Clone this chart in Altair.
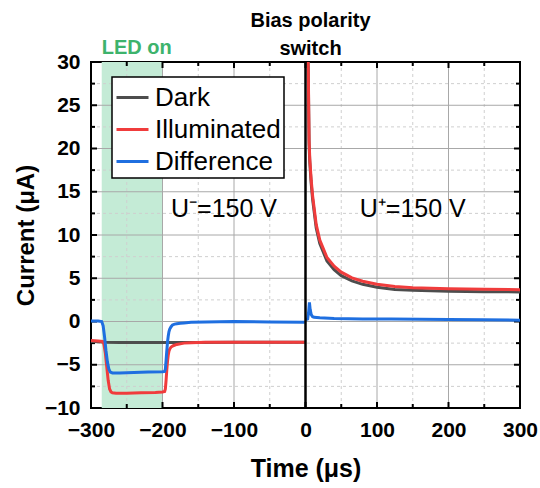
import altair as alt
import pandas as pd

# ---- measured traces: time in microseconds, current in microamps ----
dark_t = [-300, -290, -280, -260, -240, -220, -200, -180, -150, -100, -50, -1,
          3.5, 4, 4.5, 5, 6, 8, 10, 15, 20, 30, 40, 50, 65, 80, 100, 125, 150, 200, 250, 300]
dark_i = [-2.3, -2.35, -2.4, -2.42, -2.42, -2.42, -2.42, -2.42, -2.42, -2.4, -2.4, -2.4,
          31, 28, 24, 20.5, 18.4, 15.9, 14.1, 10.8, 9.0, 7.0, 6.0, 5.3, 4.7, 4.3, 3.95, 3.7, 3.6, 3.5, 3.45, 3.42]

red_t = [-300, -290, -284, -282, -280, -278, -276, -274, -272, -270, -265, -250, -230, -210, -200,
         -197, -196, -195, -194, -193, -192, -191, -190, -188, -185, -180, -170, -160, -140, -100, -50, -1,
         3.5, 4, 4.5, 5, 6, 8, 10, 15, 20, 30, 40, 50, 65, 80, 100, 125, 150, 200, 250, 300]
red_i = [-2.2, -2.25, -2.3, -2.6, -3.6, -5.2, -6.8, -7.8, -8.15, -8.25, -8.3, -8.3, -8.25, -8.2, -8.15,
         -8.1, -7.8, -6.8, -5.6, -4.6, -3.9, -3.45, -3.2, -2.95, -2.8, -2.65, -2.5, -2.45, -2.4, -2.4, -2.4, -2.4,
         31, 28.5, 24.5, 21, 18.8, 16.3, 14.5, 11.2, 9.4, 7.4, 6.4, 5.7, 5.05, 4.65, 4.3, 4.05, 3.9, 3.78, 3.72, 3.68]

diff_t = [-300, -290, -285, -283, -281, -279, -277, -275, -273, -270, -260, -240, -220, -200,
          -197, -196, -195, -194, -193, -192, -191, -190, -188, -186, -183, -180, -175, -170, -160, -140, -100, -50, -1,
          0.5, 3, 4.5, 5.5, 6.5, 8, 10, 12, 20, 40, 80, 120, 160, 200, 250, 300]
diff_i = [0.05, 0.05, 0, -0.5, -1.8, -3.4, -4.7, -5.5, -5.85, -5.95, -5.95, -5.9, -5.85, -5.8,
          -5.77, -5.5, -4.5, -3.4, -2.4, -1.7, -1.2, -0.9, -0.6, -0.4, -0.3, -0.25, -0.2, -0.17, -0.1, -0.05, 0, -0.05, -0.08,
          0.2, 0.3, 1.2, 2.2, 1.4, 0.8, 0.55, 0.48, 0.42, 0.35, 0.3, 0.28, 0.25, 0.22, 0.2, 0.15]

series_names = ["Dark", "Illuminated", "Difference"]
series_colors = ["#4d4d4d", "#f03c3c", "#1f6fe0"]

x_ticks = [-300, -200, -100, 0, 100, 200, 300]
x_minor = [-250, -150, -50, 50, 150, 250]
y_ticks = [-10, -5, 0, 5, 10, 15, 20, 25, 30]
y_minor = [-7.5, -2.5, 2.5, 7.5, 12.5, 17.5, 22.5, 27.5]

led_start, led_end = -285, -200

W, H = 429, 346
FONT = "Liberation Sans"

rows = []
for name, ts, vs in zip(series_names, [dark_t, red_t, diff_t], [dark_i, red_i, diff_i]):
    for t, v in zip(ts, vs):
        rows.append({"t": t, "I": v, "series": name, "seg": "neg" if t < 0 else "pos"})
traces = pd.DataFrame(rows)

xs = alt.Scale(domain=[-300, 300], nice=False, zero=False)
ys = alt.Scale(domain=[-10, 30], nice=False, zero=False)
x_axis = alt.Axis(values=x_ticks, title="Time (μs)", grid=False, ticks=False, domain=False,
                  labelFlush=False, labelOverlap=False,
                  labelFontSize=21, labelFontWeight="bold", labelPadding=11, labelColor="black",
                  titleFontSize=25, titleFontWeight="bold", titlePadding=16, titleColor="black",
                  labelFont=FONT, titleFont=FONT)
y_axis = alt.Axis(values=y_ticks, title="Current (μA)", grid=False, ticks=False, domain=False,
                  labelFlush=False, labelOverlap=False,
                  labelFontSize=21, labelFontWeight="bold", labelPadding=11, labelColor="black",
                  titleFontSize=24, titleFontWeight="bold", titlePadding=6, titleColor="black",
                  labelFont=FONT, titleFont=FONT)


def X(field="t"):
    return alt.X(f"{field}:Q", scale=xs, axis=x_axis)


def Y(field="I"):
    return alt.Y(f"{field}:Q", scale=ys, axis=y_axis)


# LED illumination window
band = alt.Chart(pd.DataFrame({"t": [led_start], "t2": [led_end]})).mark_rect(
    color="#c4ebd6").encode(x=X(), x2="t2:Q", y=alt.value(0), y2=alt.value(H))

# grid lines
xg_major = alt.Chart(pd.DataFrame({"t": [-200, -100, 100, 200]})).mark_rule(
    color="#a8a8a8", strokeWidth=1).encode(x=X(), y=alt.value(0), y2=alt.value(H))
xg_minor = alt.Chart(pd.DataFrame({"t": x_minor})).mark_rule(
    color="#cfcfcf", strokeWidth=1, strokeDash=[3, 3]).encode(x=X(), y=alt.value(0), y2=alt.value(H))
yg_major = alt.Chart(pd.DataFrame({"I": y_ticks[1:-1]})).mark_rule(
    color="#a8a8a8", strokeWidth=1).encode(y=Y(), x=alt.value(0), x2=alt.value(W))
yg_minor = alt.Chart(pd.DataFrame({"I": y_minor})).mark_rule(
    color="#cfcfcf", strokeWidth=1, strokeDash=[3, 3]).encode(y=Y(), x=alt.value(0), x2=alt.value(W))

# inward tick marks on all four sides
def xticks(vals, length):
    d = pd.DataFrame({"t": vals})
    bottom = alt.Chart(d).mark_rule(color="black", strokeWidth=2).encode(
        x=X(), y=alt.value(H), y2=alt.value(H - length))
    top = alt.Chart(d).mark_rule(color="black", strokeWidth=2).encode(
        x=X(), y=alt.value(0), y2=alt.value(length))
    return [bottom, top]


def yticks(vals, length):
    d = pd.DataFrame({"I": vals})
    left = alt.Chart(d).mark_rule(color="black", strokeWidth=2).encode(
        y=Y(), x=alt.value(0), x2=alt.value(length))
    right = alt.Chart(d).mark_rule(color="black", strokeWidth=2).encode(
        y=Y(), x=alt.value(W), x2=alt.value(W - length))
    return [left, right]


ticks = xticks(x_ticks, 6) + xticks(x_minor, 4) + yticks(y_ticks, 6) + yticks(y_minor, 4)

lines = alt.Chart(traces).mark_line(strokeWidth=3, clip=True).encode(
    x=X(), y=Y(),
    color=alt.Color("series:N", scale=alt.Scale(domain=series_names, range=series_colors),
                    sort=series_names, legend=alt.Legend(title=None)),
    detail="seg:N",
    order=alt.Order("t:Q"),
)

# bias switch at t = 0
switch_line = alt.Chart(pd.DataFrame({"t": [0]})).mark_rule(
    color="black", strokeWidth=2.5).encode(x=X(), y=alt.value(0), y2=alt.value(H))

def label(text, t, y_px=None, i=None, size=24, weight="normal", color="black"):
    enc = {"x": alt.X("t:Q", scale=xs, axis=x_axis)}
    if i is not None:
        enc["y"] = alt.Y("I:Q", scale=ys, axis=y_axis)
    else:
        enc["y"] = alt.value(y_px)
    return alt.Chart(pd.DataFrame({"t": [t], "I": [i if i is not None else 0], "txt": [text]})).mark_text(
        font=FONT, fontSize=size, fontWeight=weight, color=color, baseline="alphabetic",
        align="center").encode(text="txt:N", **enc)


texts = [
    label("U\u207b=150 V", -114, i=12.1, size=25),
    label("U\u207a=150 V", 150, i=12.1, size=25),
    label("LED on", -236, y_px=-8, size=20, weight="bold", color="#3db36c"),
    label("Bias polarity", 7, y_px=-35, size=20, weight="bold"),
    label("switch", 7, y_px=-7, size=20, weight="bold"),
]

chart = alt.layer(
    band, xg_minor, yg_minor, xg_major, yg_major, *ticks, lines, switch_line, *texts
).properties(
    width=W, height=H,
    autosize=alt.AutoSizeParams(type="none"),
    padding={"left": 91, "top": 62, "right": 20, "bottom": 80},
).configure_view(
    stroke="black", strokeWidth=2
).configure_legend(
    orient="none", legendX=21, legendY=15,
    fillColor="white", strokeColor="black", strokeWidth=1.5,
    padding=3, rowPadding=1, symbolType="stroke", symbolSize=1024, symbolStrokeWidth=3,
    labelFontSize=26, labelFont=FONT, labelColor="black", labelOffset=5, labelLimit=0,
    cornerRadius=0,
)

chart.save("out.html", embed_options={"renderer": "svg", "actions": False})
